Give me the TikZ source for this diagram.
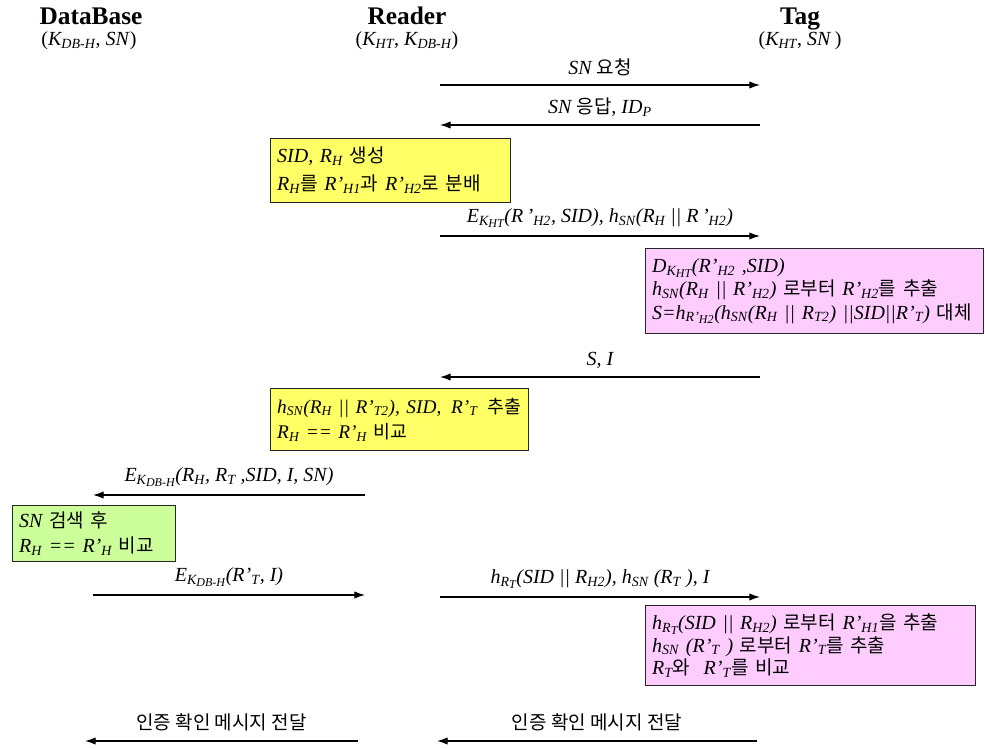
\documentclass[tikz,border=0pt]{standalone}
\usepackage{fontspec}
\setmainfont{Liberation Serif}
\newfontfamily\krfont{Noto Sans CJK KR}[Scale=0.95]
\usetikzlibrary{arrows.meta,positioning}

\newcommand{\ko}[1]{{\krfont\upshape #1}}
\newcommand{\sub}[1]{\textsubscript{#1}}
\newcommand{\ssub}[1]{\raisebox{-0.3ex}{\fontsize{9}{9}\selectfont #1}}

\definecolor{boxyellow}{HTML}{FFFF66}
\definecolor{boxpink}{HTML}{FFCCFF}
\definecolor{boxgreen}{HTML}{CCFF99}

\begin{document}
\begin{tikzpicture}[
  x=0.75pt, y=-0.75pt,
  >={Latex[length=8pt,width=5.5pt]},
  actor/.style={anchor=base, font=\fontsize{19}{21}\selectfont\bfseries, inner sep=0pt},
  keys/.style={anchor=base, font=\fontsize{15}{17}\selectfont, inner sep=0pt},
  msg/.style={->, line width=0.9pt},
  lbl/.style={font=\fontsize{15}{17}\selectfont\itshape, inner sep=2pt},
  note/.style={draw=black!85, line width=0.8pt, anchor=north west, align=left, inner xsep=5pt, inner ysep=2pt}
]
\useasboundingbox (0,0) rectangle (985,749);

% Participants
\node[actor] (db)     at (91,25)  {DataBase};
\node[keys]  (dbkeys) at (89,46)  {(\textit{K\sub{DB-H}}, \textit{SN})};
\node[actor] (reader) at (407,25) {Reader};
\node[keys]  (readerkeys) at (407,46) {(\textit{K\sub{HT}}, \textit{K\sub{DB-H}})};
\node[actor] (tag)    at (800,25) {Tag};
\node[keys]  (tagkeys) at (800,46) {(\textit{K\sub{HT}}, \textit{SN}\,)};

% Reader <-> Tag : SN
\coordinate (r1) at (440,85);  \coordinate (t1) at (760,85);
\coordinate (r2) at (440,125); \coordinate (t2) at (760,125);
\draw[msg] (r1) -- node[lbl, above=4pt] (m1) {SN \ko{요청}} (t1);
\draw[msg] (t2) -- node[lbl, above=4pt] (m2) {SN \ko{응답}, ID\sub{P}} (r2);

% Reader: SID, R_H
\node[note, fill=boxyellow, text width=170pt, minimum height=48pt,
  font=\fontsize{15}{21}\selectfont\itshape] (gen) at (270,138)
  {SID, R\sub{H} \ko{생성}\\
   R\sub{H}\ko{를} R'\sub{H1}\ko{과} R'\sub{H2}\ko{로 분배}};

\coordinate (r3) at (440,236); \coordinate (t3) at (760,236);
\draw[msg] (r3) -- node[lbl, above=4pt] (m3)
  {E\sub{K\ssub{HT}}(R\,'\sub{H2}, SID), h\sub{SN}(R\sub{H} || R\,'\sub{H2})} (t3);

% Tag: decrypt and extract
\node[note, fill=boxpink, text width=243.5pt, minimum height=64pt,
  font=\fontsize{15}{17.5}\selectfont\itshape] (tagcheck) at (645,248)
  {D\sub{K\ssub{HT}}(R'\sub{H2} ,SID)\\
   h\sub{SN}(R\sub{H} || R'\sub{H2}) \ko{로부터} R'\sub{H2}\ko{를 추출}\\
   S=h\sub{R'\ssub{H2}}(h\sub{SN}(R\sub{H} || R\sub{T2}) ||SID||R'\sub{T}) \ko{대체}};

\coordinate (r4) at (440,377); \coordinate (t4) at (760,377);
\draw[msg] (t4) -- node[lbl, above=4pt] (m4) {S, I} (r4);

% Reader: extract and compare
\node[note, fill=boxyellow, text width=183.5pt, minimum height=46.5pt,
  font=\fontsize{14.5}{19}\selectfont\itshape] (rdcheck) at (270,388)
  {\mbox{h\sub{SN}(R\sub{H} || R'\sub{T2}), SID,\, R'\sub{T}\, \ko{추출}}\\
   R\sub{H} == R'\sub{H} \ko{비교}};

% Reader -> DataBase
\coordinate (r5) at (365,495); \coordinate (d5) at (93,495);
\draw[msg] (r5) -- node[lbl, above=4pt] (m5)
  {E\sub{K\ssub{DB-H}}(R\sub{H}, R\sub{T} ,SID, I, SN)} (d5);

\node[note, fill=boxgreen, text width=112pt, minimum height=42pt,
  font=\fontsize{15}{19}\selectfont\itshape] (dbcheck) at (12,505)
  {SN \ko{검색 후}\\
   R\sub{H} == R'\sub{H} \ko{비교}};

% DataBase -> Reader -> Tag
\coordinate (d6) at (93,595);  \coordinate (r6) at (365,595);
\coordinate (r7) at (440,597); \coordinate (t7) at (760,597);
\draw[msg] (d6) -- node[lbl, above=4pt] (m6) {E\sub{K\ssub{DB-H}}(R'\sub{T}, I)} (r6);
\draw[msg] (r7) -- node[lbl, above=4pt] (m7)
  {h\sub{R\ssub{T}}(SID || R\sub{H2}), h\sub{SN} (R\sub{T} ), I} (t7);

% Tag: final check
\node[note, fill=boxpink, text width=237.5pt, minimum height=60pt,
  font=\fontsize{15}{17}\selectfont\itshape] (tagfinal) at (645,605)
  {h\sub{R\ssub{T}}(SID || R\sub{H2}) \ko{로부터} R'\sub{H1}\ko{을 추출}\\
   h\sub{SN} (R'\sub{T} ) \ko{로부터} R'\sub{T}\ko{를 추출}\\
   R\sub{T}\ko{와}~ R'\sub{T}\ko{를 비교}};

% Confirmation messages
\coordinate (t8) at (757,741); \coordinate (r8) at (437,741);
\coordinate (r9) at (358,741); \coordinate (d9) at (85,741);
\draw[msg] (t8) -- node[lbl, above=5pt] (m8) {\ko{인증 확인 메시지 전달}} (r8);
\draw[msg] (r9) -- node[lbl, above=5pt] (m9) {\ko{인증 확인 메시지 전달}} (d9);

\end{tikzpicture}
\end{document}
